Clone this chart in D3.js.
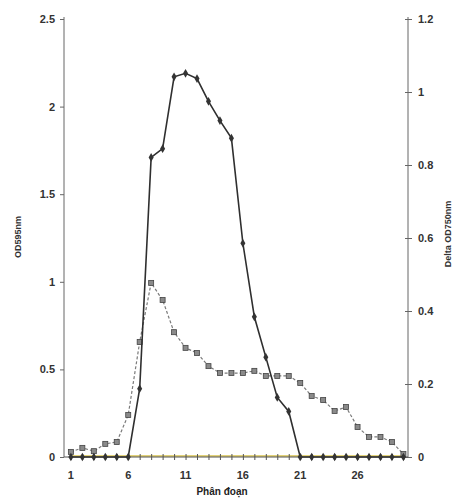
<!DOCTYPE html>
<html>
<head>
<meta charset="utf-8">
<script src="https://cdn.jsdelivr.net/npm/d3@7"></script>
<style>
  body { margin: 0; background: #fff; }
  text { font-family: "Liberation Sans", Arial, sans-serif; }
</style>
</head>
<body>
<div id="chart"></div>
<script>
// fractions 1..30
const fractions = d3.range(1, 31);
// OD595nm (left axis)
const od595 = [0, 0, 0, 0, 0, 0, 0.39, 1.71, 1.76, 2.17, 2.19, 2.16, 2.03, 1.92, 1.82,
               1.22, 0.80, 0.57, 0.34, 0.26, 0, 0, 0, 0, 0, 0, 0, 0, 0, 0];
// Delta OD750nm (right axis)
const dOd750 = [0.014, 0.025, 0.016, 0.036, 0.041, 0.115, 0.315, 0.477, 0.430, 0.342, 0.299, 0.285, 0.249, 0.230, 0.230,
                0.230, 0.236, 0.222, 0.222, 0.222, 0.203, 0.167, 0.156, 0.126, 0.137, 0.082, 0.055, 0.055, 0.041, 0.008];
// baseline series
const baseline = [0, 0, 0, 0, 0, 0, 0, 0, 0, 0, 0, 0, 0, 0, 0, 0, 0, 0, 0, 0, 0, 0, 0, 0, 0, 0, 0, 0, 0, 0];

const leftTicks = [0, 0.5, 1, 1.5, 2, 2.5];
const rightTicks = [0, 0.2, 0.4, 0.6, 0.8, 1, 1.2];
const xTickLabels = [1, 6, 11, 16, 21, 26];

const width = 452, height = 502;

const svg = d3.select("#chart").append("svg")
    .attr("width", width)
    .attr("height", height);

svg.append("rect").attr("width", width).attr("height", height).attr("fill", "#fff");

const x = d3.scaleLinear().domain([0.4, 30.4]).range([64, 408]);
const yL = d3.scaleLinear().domain([0, 2.5]).range([457, 19]);
const yR = d3.scaleLinear().domain([0, 1.2]).range([457, 19]);

// left axis
const leftAxis = svg.append("g")
    .attr("transform", "translate(64,0)")
    .call(d3.axisLeft(yL).tickValues(leftTicks).tickSize(4).tickPadding(5).tickFormat(d3.format("")));
leftAxis.select(".domain").attr("stroke", "#666").attr("d", "M0,17V457");
leftAxis.selectAll(".tick line").attr("stroke", "#666");
leftAxis.selectAll(".tick text").attr("fill", "#333").attr("font-size", 11).attr("font-weight", "bold");

// right axis
const rightAxis = svg.append("g")
    .attr("transform", "translate(408,0)")
    .call(d3.axisRight(yR).tickValues(rightTicks).tickSize(4).tickPadding(6).tickFormat(d3.format("")));
rightAxis.select(".domain").attr("stroke", "#666").attr("d", "M0,17V457");
rightAxis.selectAll(".tick line").attr("stroke", "#666").attr("x1", -3);
rightAxis.selectAll(".tick text").attr("fill", "#333").attr("font-size", 11).attr("font-weight", "bold");

// baseline (yellow) series
svg.append("path")
    .datum(baseline)
    .attr("fill", "none")
    .attr("stroke", "#e2d27a")
    .attr("stroke-width", 2)
    .attr("d", d3.line().x((d, i) => x(fractions[i])).y(d => yL(d) - 1));

// x axis
const xAxis = svg.append("g")
    .attr("transform", "translate(0,457)")
    .call(d3.axisBottom(x).tickValues(fractions).tickSize(3).tickFormat(""));
xAxis.select(".domain").attr("stroke", "#555").attr("d", "M64,0H408");
xAxis.selectAll(".tick line").attr("stroke", "#555").attr("y1", -3);

svg.append("g").selectAll("text")
    .data(xTickLabels)
    .join("text")
    .attr("x", d => x(d))
    .attr("y", 479)
    .attr("text-anchor", "middle")
    .attr("font-size", 11)
    .attr("font-weight", "bold")
    .attr("fill", "#333")
    .text(d => d);

// dashed Delta OD750 series
svg.append("path")
    .datum(dOd750)
    .attr("fill", "none")
    .attr("stroke", "#7a7a7a")
    .attr("stroke-width", 1.2)
    .attr("stroke-dasharray", "3,2")
    .attr("d", d3.line().x((d, i) => x(fractions[i])).y(d => yR(d)));

svg.append("g").selectAll("rect")
    .data(dOd750)
    .join("rect")
    .attr("x", (d, i) => x(fractions[i]) - 2.5)
    .attr("y", d => yR(d) - 2.5)
    .attr("width", 5)
    .attr("height", 5)
    .attr("fill", "#8a8a8a")
    .attr("stroke", "#444")
    .attr("stroke-width", 0.8);

// solid OD595 series
svg.append("path")
    .datum(od595)
    .attr("fill", "none")
    .attr("stroke", "#2f2f2f")
    .attr("stroke-width", 1.6)
    .attr("d", d3.line().x((d, i) => x(fractions[i])).y(d => yL(d)));

svg.append("g").selectAll("path")
    .data(od595)
    .join("path")
    .attr("transform", (d, i) => `translate(${x(fractions[i])},${yL(d)})`)
    .attr("d", d3.symbol().type(d3.symbolDiamond).size(22))
    .attr("fill", "#333");

// axis titles
svg.append("text")
    .attr("transform", "translate(21,237) rotate(-90)")
    .attr("text-anchor", "middle")
    .attr("font-size", 9)
    .attr("font-weight", "bold")
    .attr("fill", "#333")
    .text("OD595nm");

svg.append("text")
    .attr("transform", "translate(451,234) rotate(-90)")
    .attr("text-anchor", "middle")
    .attr("font-size", 9)
    .attr("font-weight", "bold")
    .attr("fill", "#333")
    .text("Delta OD750nm");

svg.append("text")
    .attr("x", 222)
    .attr("y", 495)
    .attr("text-anchor", "middle")
    .attr("font-size", 10)
    .attr("font-weight", "bold")
    .attr("fill", "#222")
    .text("Phân đoạn");
</script>
</body>
</html>
